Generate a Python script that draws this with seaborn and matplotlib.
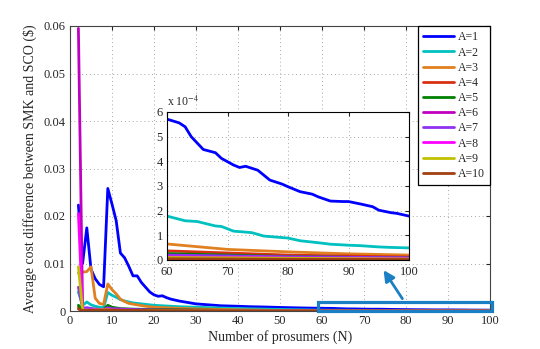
import matplotlib
matplotlib.use("Agg")
import matplotlib.pyplot as plt
import matplotlib.ticker as mticker
from matplotlib.patches import Rectangle
import seaborn as sns
import pandas as pd

# values (cost difference in $ vs number of prosumers N)
n_a1 = [2, 3, 4, 5, 6, 7, 8, 9, 10, 11, 12, 13, 14, 15, 16, 17, 18, 19, 20, 21, 22, 23, 24, 25, 26,
        28, 30, 33, 36, 40, 43, 46, 50, 55,
        60, 62, 63, 64, 66, 68, 69, 71, 72, 73, 75, 77, 79, 80, 82, 84, 85, 87, 89, 90, 92, 94, 95, 97, 98, 100]
cost_a1 = [0.0223, 0.0100, 0.0175, 0.0088, 0.0068, 0.0056, 0.0051, 0.0258, 0.0225, 0.0190, 0.0122, 0.0112,
           0.0094, 0.0074, 0.0074, 0.0060, 0.0050, 0.0040, 0.0034, 0.0031, 0.0032, 0.0028, 0.0025, 0.0023, 0.0021,
           0.0018, 0.0015, 0.0013, 0.0011, 0.0010, 0.0009, 0.00085, 0.00075, 0.00065,
           0.000571, 0.000556, 0.00054, 0.000500, 0.000448, 0.000435, 0.000412, 0.000385, 0.000375, 0.00038,
           0.000364, 0.000324, 0.000308, 0.000297, 0.000277, 0.000267, 0.000256, 0.000239, 0.000237, 0.000237,
           0.000227, 0.000216, 0.000202, 0.000192, 0.000189, 0.000178]

n_a2 = [2, 3, 4, 5, 6, 7, 8, 9, 10, 11, 12, 13, 14, 15, 16, 17, 18, 19, 20,
        22, 24, 26, 28, 30, 35, 40, 45, 50, 55,
        60, 63, 65, 68, 69, 71, 74, 76, 78, 80, 82, 85, 87, 90, 92, 95, 97, 100]
cost_a2 = [0.0040, 0.0012, 0.0019, 0.0013, 0.0010, 0.0008, 0.0007, 0.0039, 0.0033, 0.0029, 0.0024, 0.0021,
           0.0019, 0.0017, 0.0016, 0.0015, 0.0014, 0.0013, 0.0012,
           0.0011, 0.0010, 0.0009, 0.00085, 0.0008, 0.00065, 0.00052, 0.00042, 0.00033, 0.00025,
           0.000178, 0.000159, 0.000156, 0.000138, 0.000136, 0.000117, 0.000111, 0.000097, 0.000093, 0.000089,
           0.000078, 0.00007, 0.000064, 0.00006, 0.000058, 0.000053, 0.000051, 0.000049]

n_a3 = [2, 3, 4, 5, 6, 7, 8, 9, 10, 11, 12, 13, 14, 16, 18, 20, 25, 30, 40, 50, 60, 70, 80, 90, 100]
cost_a3 = [0.0080, 0.0082, 0.0083, 0.0093, 0.0027, 0.0016, 0.0014, 0.0057, 0.0045, 0.0036, 0.0025, 0.0020,
           0.0016, 0.0013, 0.0010, 0.0008, 0.0006, 0.00045, 0.00025, 0.00012, 0.000065, 0.000043, 0.000033,
           0.000025, 0.00002]

n_a4 = [2, 3, 5, 8, 9, 10, 12, 15, 20, 30, 40, 60, 80, 100]
cost_a4 = [0.0008, 0.0002, 0.0003, 0.0002, 0.0006, 0.0004, 0.0003, 0.00025, 0.0002, 0.00013, 0.0001,
           0.000037, 0.00002, 0.000012]

n_a5 = [2, 3, 5, 8, 9, 10, 12, 15, 20, 30, 40, 60, 80, 100]
cost_a5 = [0.0012, 0.0003, 0.0004, 0.0003, 0.0012, 0.0008, 0.0005, 0.0004, 0.0003, 0.0002, 0.00012,
           0.000026, 0.000014, 0.000008]

n_a6 = [2, 3, 5, 8, 9, 10, 15, 20, 40, 60, 80, 100]
cost_a6 = [0.0595, 0.0003, 0.0002, 0.0002, 0.0005, 0.0003, 0.0002, 0.00015, 0.00006, 0.000016, 0.00001, 0.000006]

n_a7 = [2, 3, 4, 6, 8, 9, 10, 15, 20, 40, 60, 80, 100]
cost_a7 = [0.0050, 0.0006, 0.0007, 0.0004, 0.0003, 0.0007, 0.0005, 0.0003, 0.0002, 0.0001, 0.00002,
           0.000013, 0.000009]

n_a8 = [2, 3, 5, 9, 10, 20, 40, 60, 80, 100]
cost_a8 = [0.0205, 0.0002, 0.0002, 0.0004, 0.0002, 0.0001, 0.00005, 0.000012, 0.000008, 0.000005]

n_a9 = [2, 3, 5, 9, 10, 20, 40, 60, 80, 100]
cost_a9 = [0.0093, 0.0002, 0.00015, 0.0003, 0.00015, 0.0001, 0.00004, 0.00001, 0.000007, 0.000004]

n_a10 = [2, 3, 9, 20, 40, 60, 80, 100]
cost_a10 = [0.0004, 0.0001, 0.0002, 0.00008, 0.00004, 0.000005, 0.000003, 0.000002]

labels = ['A=1', 'A=2', 'A=3', 'A=4', 'A=5', 'A=6', 'A=7', 'A=8', 'A=9', 'A=10']
colors = ['#0000ff', '#00c0c0', '#e08020', '#d83010', '#008000',
          '#c000c0', '#9030f0', '#ff00ff', '#c0c000', '#a04010']

all_n = [n_a1, n_a2, n_a3, n_a4, n_a5, n_a6, n_a7, n_a8, n_a9, n_a10]
all_cost = [cost_a1, cost_a2, cost_a3, cost_a4, cost_a5, cost_a6, cost_a7, cost_a8, cost_a9, cost_a10]

frames = []
for lab, n, c in zip(labels, all_n, all_cost):
    frames.append(pd.DataFrame({'N': n, 'cost': c, 'A': lab}))
df = pd.concat(frames, ignore_index=True)

sns.set_style('white')
plt.rcParams['font.family'] = ['Liberation Serif', 'DejaVu Serif']
plt.rcParams['mathtext.fontset'] = 'stix'

grid_style = dict(linestyle=(0, (1, 3)), color='#a8a8a8', lw=0.7)

fig = plt.figure(figsize=(5.4, 3.49), dpi=100)
ax = fig.add_axes([70 / 540, 38 / 349, 420 / 540, 285 / 349])

sns.lineplot(data=df, x='N', y='cost', hue='A', hue_order=labels, palette=colors,
             estimator=None, sort=False, lw=2, legend=False, ax=ax)

ax.set_xlim(0, 100)
ax.set_ylim(0, 0.06)
ax.set_xticks(range(0, 101, 10))
ax.set_yticks([0, 0.01, 0.02, 0.03, 0.04, 0.05, 0.06])
ax.yaxis.set_major_formatter(mticker.FuncFormatter(lambda v, p: f'{v:g}'))
ax.grid(True, **grid_style)
ax.tick_params(direction='in', top=True, right=True, length=3, labelsize=9, pad=3)
for s in ax.spines.values():
    s.set_color('#444444')
    s.set_linewidth(0.8)
ax.set_xlabel('Number of prosumers (N)', fontsize=10, labelpad=2)
ax.set_ylabel('Average cost difference between SMK and SCO ($)', fontsize=10, labelpad=5)

leg = ax.legend(ax.lines[:10], labels, loc='upper right', borderaxespad=0, fontsize=8.5,
                handlelength=2.6, handletextpad=0.35, labelspacing=0.27, borderpad=0.45,
                fancybox=False, framealpha=1, edgecolor='black')
leg.get_frame().set_linewidth(0.9)

# highlight box and arrow pointing to the zoomed region
ax.add_patch(Rectangle((59, 0.0), 41.5, 0.0019, fill=False, edgecolor='#1a7fc4', lw=2.3,
                       clip_on=False, zorder=5))
ax.annotate('', xy=(74.3, 0.0091), xytext=(79.5, 0.0021),
            arrowprops=dict(arrowstyle='-|>', color='#1a7fc4', lw=2, mutation_scale=16))

# inset
axin = fig.add_axes([167 / 540, 89 / 349, 242 / 540, 148 / 349])
sns.lineplot(data=df, x='N', y='cost', hue='A', hue_order=labels, palette=colors,
             estimator=None, sort=False, lw=2, legend=False, ax=axin)
axin.set_xlim(60, 100)
axin.set_ylim(0, 6e-4)
axin.set_xticks(range(60, 101, 10))
axin.set_yticks([i * 1e-4 for i in range(7)])
axin.yaxis.set_major_formatter(mticker.FuncFormatter(lambda v, p: f'{v * 1e4:.0f}'))
axin.grid(True, **grid_style)
axin.tick_params(direction='in', top=True, right=True, length=3, labelsize=9)
axin.tick_params(axis='x', pad=4)
axin.tick_params(axis='y', pad=3)
axin.set_xlabel('')
axin.set_ylabel('')
for s in axin.spines.values():
    s.set_color('black')
    s.set_linewidth(0.8)
axin.text(0.0, 1.02, 'x 10$^{-4}$', transform=axin.transAxes, fontsize=8.5, ha='left', va='bottom')

fig.savefig('out.png', dpi=100)
